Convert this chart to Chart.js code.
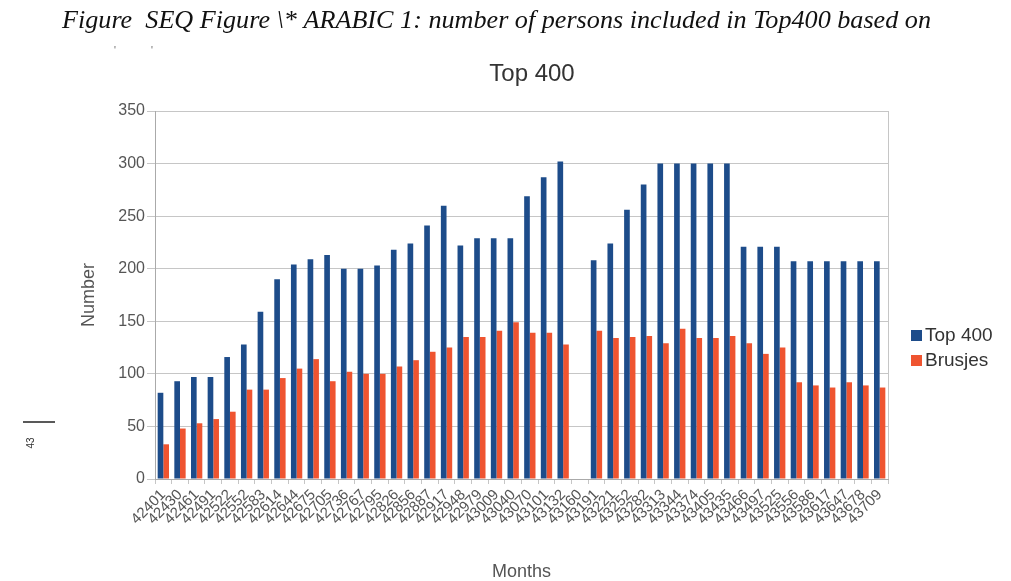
<!DOCTYPE html>
<html>
<head>
<meta charset="utf-8">
<title>Top 400</title>
<script src="https://cdn.jsdelivr.net/npm/chart.js@4/dist/chart.umd.min.js"></script>
<style>
  html, body { margin: 0; padding: 0; background: #ffffff; }
  #wrap { width: 1011px; height: 581px; position: relative; }
</style>
</head>
<body>
<div id="wrap"><canvas id="chart" width="1011" height="581"></canvas></div>
<script>
// Month labels (spreadsheet date serials, as exported)
const months = [
  '42401', '42430', '42461', '42491', '42522', '42552', '42583', '42614', '42644', '42675', '42705',
  '42736', '42767', '42795', '42826', '42856', '42887', '42917', '42948', '42979', '43009', '43040',
  '43070', '43101', '43132', '43160', '43191', '43221', '43252', '43282', '43313', '43344', '43374',
  '43405', '43435', '43466', '43497', '43525', '43556', '43586', '43617', '43647', '43678', '43709'
];

// Number of persons in the Top 400 list per month
const top400 = [
  82, 93, 97, 97, 116, 128, 159, 190, 204, 209, 213,
  200, 200, 203, 218, 224, 241, 260, 222, 229, 229, 229,
  269, 287, 302, null, 208, 224, 256, 280, 300, 300, 300,
  300, 300, 221, 221, 221, 207, 207, 207, 207, 207, 207
];

// Number of those persons from Brusjes
const brusjes = [
  33, 48, 53, 57, 64, 85, 85, 96, 105, 114, 93,
  102, 100, 100, 107, 113, 121, 125, 135, 135, 141, 149,
  139, 139, 128, null, 141, 134, 135, 136, 129, 143, 134,
  134, 136, 129, 119, 125, 92, 89, 87, 92, 89, 87
];

const seriesNames = ['Top 400', 'Brusjes'];
const seriesColors = ['#1d4c8a', '#ef5430'];

const captionText = 'Figure  SEQ Figure \\* ARABIC 1: number of persons included in Top400 based on';
const chartTitle = 'Top 400';

const GRID = '#c6c6c6';
const AXIS = '#aaaaaa';
const TEXT = '#555555';
const SANS = '"Liberation Sans", Arial, sans-serif';

// Caption, chart title, legend and frame drawn around the plot
const decorations = {
  id: 'decorations',
  beforeDatasetsDraw(chart) {
    const { ctx, chartArea: a } = chart;
    ctx.save();
    ctx.strokeStyle = GRID;
    ctx.lineWidth = 1;
    ctx.beginPath();
    ctx.moveTo(Math.round(a.right) + 0.5, a.top);
    ctx.lineTo(Math.round(a.right) + 0.5, a.bottom);
    ctx.stroke();
    ctx.restore();
  },
  afterDraw(chart) {
    const { ctx } = chart;
    ctx.save();

    // document caption above the chart
    ctx.fillStyle = '#111111';
    ctx.font = 'italic 25px "Liberation Serif", "DejaVu Serif", serif';
    ctx.textBaseline = 'alphabetic';
    ctx.textAlign = 'left';
    const w = ctx.measureText(captionText).width;
    ctx.save();
    ctx.translate(62, 28);
    ctx.scale(869 / w, 1);
    ctx.fillText(captionText, 0, 0);
    ctx.restore();

    // small stray marks under the caption
    ctx.fillStyle = '#666666';
    ctx.font = '10px ' + SANS;
    ctx.fillText("'", 114, 54);
    ctx.fillText("'", 151, 54);

    // chart title
    ctx.fillStyle = '#333333';
    ctx.font = '24px ' + SANS;
    ctx.textAlign = 'center';
    ctx.textBaseline = 'middle';
    ctx.fillText(chartTitle, 532, 74);

    // legend
    ctx.textAlign = 'left';
    ctx.font = '19px ' + SANS;
    chart.data.datasets.forEach((ds, i) => {
      const y = 336 + i * 25;
      ctx.fillStyle = ds.backgroundColor;
      ctx.fillRect(911, y - 6, 11, 11);
      ctx.fillStyle = '#333333';
      ctx.fillText(ds.label, 925, y);
    });

    // margin mark at the left edge
    ctx.strokeStyle = '#222222';
    ctx.lineWidth = 1.5;
    ctx.beginPath();
    ctx.moveTo(23, 422);
    ctx.lineTo(55, 422);
    ctx.stroke();
    ctx.fillStyle = '#333333';
    ctx.font = '10px ' + SANS;
    ctx.translate(31, 443);
    ctx.rotate(-Math.PI / 2);
    ctx.textAlign = 'center';
    ctx.fillText('43', 0, 0);

    ctx.restore();
  }
};

new Chart(document.getElementById('chart'), {
  type: 'bar',
  data: {
    labels: months,
    datasets: [
      { label: seriesNames[0], data: top400, backgroundColor: seriesColors[0], borderWidth: 0 },
      { label: seriesNames[1], data: brusjes, backgroundColor: seriesColors[1], borderWidth: 0 }
    ]
  },
  options: {
    responsive: false,
    animation: false,
    devicePixelRatio: 1,
    layout: { padding: { top: 111, left: 78, right: 123, bottom: 0 } },
    datasets: { bar: { categoryPercentage: 0.68, barPercentage: 1.0 } },
    plugins: {
      legend: { display: false },
      title: { display: false },
      tooltip: { enabled: false }
    },
    scales: {
      x: {
        afterFit(scale) { scale.height = 102; },
        grid: { drawOnChartArea: false, drawTicks: true, tickLength: 5, color: GRID },
        border: { color: AXIS },
        ticks: {
          autoSkip: false,
          maxRotation: 45,
          minRotation: 45,
          padding: 2,
          color: TEXT,
          font: { family: SANS, size: 15 }
        },
        title: {
          display: true,
          text: 'Months',
          color: TEXT,
          padding: { top: 0, bottom: -2 },
          font: { family: SANS, size: 18 }
        }
      },
      y: {
        min: 0,
        max: 350,
        afterFit(scale) { scale.width = 77; },
        grid: { color: GRID, tickLength: 8 },
        border: { color: AXIS },
        ticks: {
          stepSize: 50,
          padding: 2,
          color: TEXT,
          font: { family: SANS, size: 16 }
        },
        title: {
          display: true,
          text: 'Number',
          color: TEXT,
          padding: { top: 0, bottom: 0 },
          font: { family: SANS, size: 18 }
        }
      }
    }
  },
  plugins: [decorations]
});
</script>
</body>
</html>
